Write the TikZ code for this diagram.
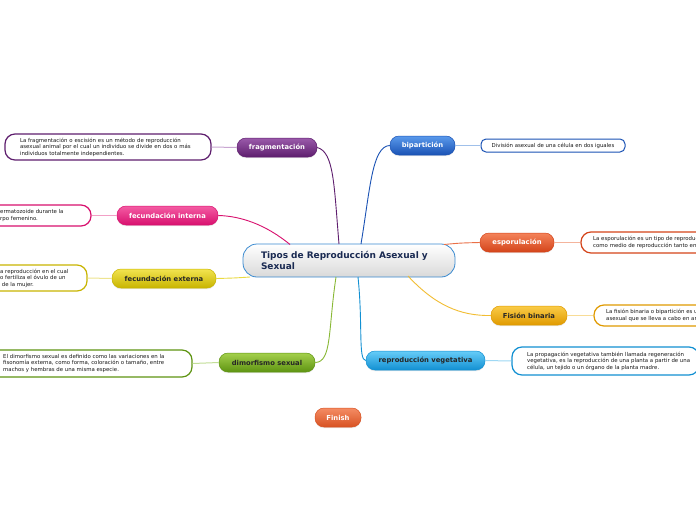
\documentclass[tikz,border=0pt]{standalone}
\usepackage{fontspec}
\setmainfont{DejaVu Sans}
\usetikzlibrary{shadows}
\definecolor{cPur}{HTML}{5E1E6E}\definecolor{cPurT}{HTML}{9A5AAA}\definecolor{cPurL}{HTML}{C9A6D2}
\definecolor{cPnk}{HTML}{D8106E}\definecolor{cPnkT}{HTML}{F45CA4}\definecolor{cPnkL}{HTML}{F2A0C6}
\definecolor{cYel}{HTML}{C8B400}\definecolor{cYelT}{HTML}{F2E450}\definecolor{cYelL}{HTML}{EEE490}
\definecolor{cGrn}{HTML}{5E9412}\definecolor{cGrnT}{HTML}{A4D04C}\definecolor{cGrnL}{HTML}{C2DE98}
\definecolor{cBlu}{HTML}{1A52B4}\definecolor{cBluT}{HTML}{5A9AEC}\definecolor{cBluL}{HTML}{A0C0EA}
\definecolor{cOrg}{HTML}{D4441A}\definecolor{cOrgT}{HTML}{F4835A}\definecolor{cOrgL}{HTML}{F4B49C}
\definecolor{cAmb}{HTML}{E09A00}\definecolor{cAmbT}{HTML}{FACC48}\definecolor{cAmbL}{HTML}{F8DC96}
\definecolor{cSky}{HTML}{1290D2}\definecolor{cSkyT}{HTML}{66CCF8}\definecolor{cSkyL}{HTML}{9ED8F4}
\definecolor{cFin}{HTML}{D85222}\definecolor{cFinT}{HTML}{F48C64}
\definecolor{cNavy}{HTML}{1A2A52}\definecolor{cCen}{HTML}{3A8AD0}
\begin{document}
\begin{tikzpicture}[x=1pt,y=-1pt,
  topic/.style={rounded corners=9pt, minimum height=19pt, inner sep=0pt,
    font=\fontsize{6.8}{7.5}\selectfont\bfseries, text=white, line width=0.5pt,
    drop shadow={shadow xshift=0pt, shadow yshift=-1.2pt, opacity=0.18}},
  desc/.style={rounded corners=10pt, fill=white, line width=1.2pt, inner sep=0pt},
  dtext/.style={font=\fontsize{5.4}{6.6}\selectfont, text=black!90, inner sep=0pt, align=left},
  link/.style={line width=0.9pt},
  thin/.style={line width=1pt}]
\useasboundingbox (0,0) rectangle (696,520);
\clip (0,0) rectangle (696,520);
\fill[white] (0,0) rectangle (696,520);

% central
\node[rounded corners=14pt, minimum width=212pt, minimum height=33pt, inner xsep=18pt, inner ysep=0pt,
  text width=176pt, align=left, top color=white, bottom color=black!15, draw=cCen, line width=0.8pt,
  font=\fontsize{9}{11}\selectfont\bfseries, text=cNavy] (cen) at (349,260.5)
  {Tipos de Reproducción Asexual y\\Sexual};

% topics
\node[topic, minimum width=80pt, top color=cPurT, bottom color=cPur, draw=cPur] (frag) at (277,147.5) {fragmentación};
\node[topic, minimum width=101pt, top color=cPnkT, bottom color=cPnk, draw=cPnk] (fint) at (167.5,215.5) {fecundación interna};
\node[topic, minimum width=104pt, top color=cYelT, bottom color=cYel, draw=cYel, text=black!85] (fext) at (164,278.5) {fecundación externa};
\node[topic, minimum width=96pt, top color=cGrnT, bottom color=cGrn, draw=cGrn, text=black!85] (dim) at (267,362.5) {dimorfismo sexual};
\node[topic, minimum width=65pt, top color=cBluT, bottom color=cBlu, draw=cBlu] (bip) at (422.5,145.5) {bipartición};
\node[topic, minimum width=74pt, top color=cOrgT, bottom color=cOrg, draw=cOrg] (esp) at (517,242.5) {esporulación};
\node[topic, minimum width=76pt, top color=cAmbT, bottom color=cAmb, draw=cAmb, text=black!85] (fis) at (529,315.5) {Fisión binaria};
\node[topic, minimum width=119pt, top color=cSkyT, bottom color=cSky, draw=cSky, text=black!85] (veg) at (425.5,360.5) {reproducción vegetativa};
\node[topic, minimum width=46pt, top color=cFinT, bottom color=cFin, draw=cFin] (fin) at (338,417.5) {Finish};

% description boxes
\node[desc, draw=cPur, minimum width=206pt, minimum height=26pt, inner xsep=15pt, text width=176pt, dtext] (fragD) at (108,147)
  {La fragmentación o escisión es un método de reproducción\\asexual animal por el cual un individuo se divide en dos o más\\individuos totalmente independientes.};
\node[desc, draw=cPnk, minimum width=200pt, minimum height=21pt] (fintD) at (-9,215.5) {};
\node[dtext, anchor=west] (fintT) at (0,215.5)
  {\llap{La fecundación interna es la unión del óvulo y el esp}ermatozoide durante la\\\llap{cópula, que se realiza dentro del cue}rpo femenino.};
\node[desc, draw=cYel, minimum width=200pt, minimum height=26pt] (fextD) at (-13,278) {};
\node[dtext, anchor=west] (fextT) at (0,278)
  {\llap{La fecundación externa es un tipo de}a reproducción en el cual\\\llap{el espermatozoide del macho n}o fertiliza el óvulo de un\\\llap{organismo fuera del cuerpo} de la mujer.};
\node[desc, draw=cGrn, minimum width=242pt, minimum height=27pt] (dimD) at (71,363.5) {};
\node[dtext, anchor=west] (dimT) at (3,363.5)
  {El dimorfismo sexual es definido como las variaciones en la\\fisonomía externa, como forma, coloración o tamaño, entre\\machos y hembras de una misma especie.};
\node[desc, draw=cBlu, minimum width=144pt, minimum height=13pt, rounded corners=5pt, line width=1pt, dtext] (bipD) at (553,145.5)
  {División asexual de una célula en dos iguales};
\node[desc, draw=cOrg, minimum width=219pt, minimum height=21pt] (espD) at (690.5,242.5) {};
\node[dtext, anchor=west] (espT) at (593,242.5)
  {La esporulación es un tipo de reprodu\rlap{cción asexual y sexual que utilizan}\\como medio de reproducción tanto e\rlap{n hongos como en plantas}};
\node[desc, draw=cAmb, minimum width=226pt, minimum height=21pt] (fisD) at (707,315.5) {};
\node[dtext, anchor=west] (fisT) at (606,315.5)
  {La fisión binaria o bipartición es\rlap{ una forma de reproducción}\\asexual que se lleva a cabo en a\rlap{rqueas y bacterias}};
\node[desc, draw=cSky, minimum width=187pt, minimum height=28pt] (vegD) at (605.5,361) {};
\node[dtext, anchor=west] (vegT) at (527,361)
  {La propagación vegetativa también llamada regeneración\\vegetativa, es la reproducción de una planta a partir de una\\célula, un tejido o un órgano de la planta madre.};

% anchor points on central node
\coordinate (pPur) at (339,244);
\coordinate (pBlu) at (361,244);
\coordinate (pPnk) at (290,244.5);
\coordinate (pYel) at (250,277);
\coordinate (pGrn) at (336,277);
\coordinate (pSky) at (358,277);
\coordinate (pAmb) at (408,276);
\coordinate (pOrg) at (444,244.5);

% main connectors
\draw[link, cPur] (pPur) .. controls (334,185) and (334,152) .. (frag.east);
\draw[link, cBlu] (pBlu) .. controls (370,190) and (372,146) .. (bip.west);
\draw[link, cPnk] (pPnk) .. controls (265,224) and (240,216) .. (fint.east);
\draw[link, cYelT!80!cYel] (pYel) .. controls (235,278) .. (fext.east);
\draw[link, cGrnT!60!cGrn] (pGrn) .. controls (328,330) and (332,362) .. (dim.east);
\draw[link, cSky] (pSky) .. controls (363,325) and (358,360) .. (veg.west);
\draw[link, cAmbT!70!cAmb] (pAmb) .. controls (435,305) and (460,316) .. (fis.west);
\draw[link, cOrgT!70!cOrg] (pOrg) .. controls (460,243) .. (esp.west);

% topic-description links
\draw[thin, cPurL] (frag.west) -- (fragD.east);
\draw[thin, cPnkL] (fint.west) -- (fintD.east);
\draw[thin, cYelL] (fext.west) -- (fextD.east);
\draw[thin, cGrnL] (dim.west) -- (dimD.east);
\draw[thin, cBluL] (bip.east) -- (bipD.west);
\draw[thin, cOrgL] (esp.east) -- (espD.west);
\draw[thin, cAmbL] (fis.east) -- (fisD.west);
\draw[thin, cSkyL] (veg.east) -- (vegD.west);
\end{tikzpicture}
\end{document}
